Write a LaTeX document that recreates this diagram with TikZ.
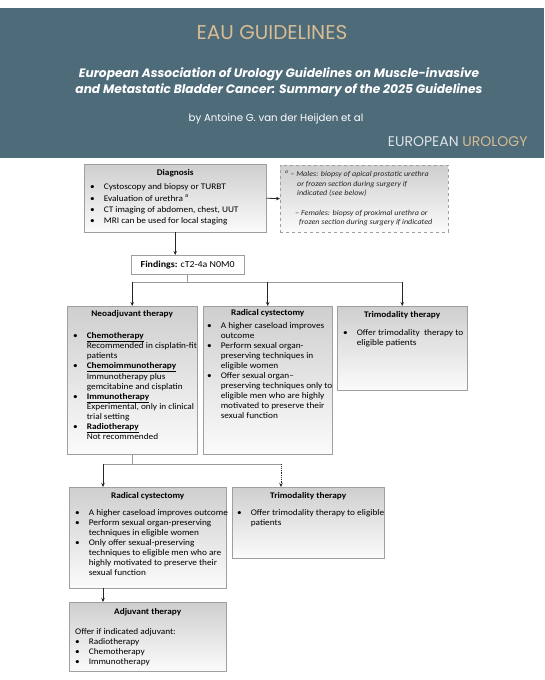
\documentclass[tikz,border=0pt]{standalone}
\usepackage{fontspec}
\setmainfont{Carlito}[FakeStretch=1.08]
\newfontfamily\headfont{Poppins}
\usetikzlibrary{positioning}
\usetikzlibrary{arrows.meta}

\definecolor{headbg}{HTML}{4E6B7A}
\definecolor{headtan}{HTML}{D8BC94}
\definecolor{headgray}{HTML}{DCE3E6}

\newenvironment{blist}{\begin{tabular}{@{}l@{\hspace{9pt}}l@{}}}{\end{tabular}}
\newcommand{\bi}{\textbullet &}
\newcommand{\hd}[1]{\underline{\textbf{#1}}}

\tikzset{
  panel/.style={draw=gray!75, top color=gray!38, bottom color=gray!3, anchor=north west, inner sep=0pt},
  boxhead/.style={inner sep=0pt, font=\bfseries\fontsize{8.6}{10}\selectfont},
  boxbody/.style={anchor=north west, inner sep=0pt, font=\fontsize{8.6}{10}\selectfont},
  arr/.style={draw=black!85, line width=0.8pt, -{Stealth[length=4pt,width=3.5pt]}},
  bus/.style={draw=gray!80, line width=0.8pt},
}

\begin{document}
\begin{tikzpicture}[x=1pt, y=-1pt]
  \useasboundingbox (0,0) rectangle (544,680);
  \fill[white] (0,0) rectangle (544,680);

  % header band
  \fill[headbg] (0,8) rectangle (544,158);
  \node[font=\headfont\fontsize{20}{24}\selectfont, text=headtan] (eau) at (272,33) {EAU GUIDELINES};
  \node[font=\headfont\bfseries\itshape\fontsize{12.2}{15.5}\selectfont, text=white, align=center] (ttl) at (279,82)
    {European Association of Urology Guidelines on Muscle-invasive\\and Metastatic Bladder Cancer: Summary of the 2025 Guidelines};
  \node[font=\headfont\fontsize{10.2}{12}\selectfont, text=white] (by) at (276,119) {by Antoine G. van der Heijden et al};
  \node[anchor=east, font=\headfont\fontsize{14}{16}\selectfont] (eu) at (531,142)
    {\textcolor{headgray}{EUROPEAN} \textcolor{headtan}{UROLOGY}};

  % diagnosis
  \node[panel, minimum width=182pt, minimum height=68pt] (diag) at (84,164) {};
  \node[boxhead] (diaghd) at ([yshift=-9pt]diag.north) {Diagnosis};
  \node[boxbody, font=\fontsize{8.6}{11.4}\selectfont] (diagtxt) at ([xshift=6pt, yshift=-17.5pt]diag.north west) {\begin{blist}
    \bi Cystoscopy and biopsy or TURBT\\
    \bi Evaluation of urethra \textsuperscript{a}\\
    \bi CT imaging of abdomen, chest, UUT\\
    \bi MRI can be used for local staging
  \end{blist}};

  \node[panel, dashed, minimum width=168pt, minimum height=67pt] (notes) at (280,165) {};
  \node[anchor=north west, align=left, inner sep=0pt, text=black!85, font=\itshape\fontsize{7.5}{9.6}\selectfont] (notestxt)
    at ([xshift=5pt, yshift=-6pt]notes.north west)
    {\textsuperscript{a} -- Males: biopsy of apical prostatic urethra\\
     \hspace*{12pt}or frozen section during surgery if\\
     \hspace*{12pt}indicated (see below)\\[9.6pt]
     \hspace*{10pt}-- Females: biopsy of proximal urethra or\\
     \hspace*{14pt}frozen section during surgery if indicated};

  \node[draw=gray!75, fill=white, anchor=north west, minimum width=113pt, minimum height=19pt, inner sep=0pt,
    font=\fontsize{9.2}{11}\selectfont] (find) at (131,255) {\textbf{Findings:} cT2-4a N0M0};

  % first row
  \node[panel, minimum width=130pt, minimum height=148pt] (neo) at (67,306) {};
  \node[boxhead] (neohd) at ([yshift=-8pt]neo.north) {Neoadjuvant therapy};
  \node[boxbody] (neotxt) at ([xshift=6pt, yshift=-25.2pt]neo.north west) {\begin{blist}
    \bi \hd{Chemotherapy}\\ & Recommended in cisplatin-fit\\ & patients\\
    \bi \hd{Chemoimmunotherapy}\\ & Immunotherapy plus\\ & gemcitabine and cisplatin\\
    \bi \hd{Immunotherapy}\\ & Experimental, only in clinical\\ & trial setting\\
    \bi \hd{Radiotherapy}\\ & Not recommended
  \end{blist}};

  \node[panel, minimum width=129pt, minimum height=148pt] (rc) at (203,306) {};
  \node[boxhead] (rchd) at ([yshift=-7.5pt]rc.north) {Radical cystectomy};
  \node[boxbody] (rctxt) at ([xshift=4pt, yshift=-15.5pt]rc.north west) {\begin{blist}
    \bi A higher caseload improves\\ & outcome\\
    \bi Perform sexual organ-\\ & preserving techniques in\\ & eligible women\\
    \bi Offer sexual organ--\\ & preserving techniques only to\\ & eligible men who are highly\\
      & motivated to preserve their\\ & sexual function
  \end{blist}};

  \node[panel, minimum width=130pt, minimum height=84pt] (tmt) at (337,306) {};
  \node[boxhead] (tmthd) at ([yshift=-9pt]tmt.north) {Trimodality therapy};
  \node[boxbody] (tmttxt) at ([xshift=6pt, yshift=-22.2pt]tmt.north west) {\begin{blist}
    \bi Offer trimodality\ \ therapy to\\ & eligible patients
  \end{blist}};

  % second row
  \node[panel, minimum width=157pt, minimum height=101pt] (rc2) at (69,487) {};
  \node[boxhead] (rc2hd) at ([yshift=-9pt]rc2.north) {Radical cystectomy};
  \node[boxbody] (rc2txt) at ([xshift=6pt, yshift=-21.2pt]rc2.north west) {\begin{blist}
    \bi A higher caseload improves outcome\\
    \bi Perform sexual organ-preserving\\ & techniques in eligible women\\
    \bi Only offer sexual-preserving\\ & techniques to eligible men who are\\
      & highly motivated to preserve their\\ & sexual function
  \end{blist}};

  \node[panel, minimum width=152pt, minimum height=71pt] (tmt2) at (232,487) {};
  \node[boxhead] (tmt2hd) at ([yshift=-9pt]tmt2.north) {Trimodality therapy};
  \node[boxbody] (tmt2txt) at ([xshift=5pt, yshift=-21.2pt]tmt2.north west) {\begin{blist}
    \bi Offer trimodality therapy to eligible\\ & patients
  \end{blist}};

  \node[panel, minimum width=157pt, minimum height=69pt] (adj) at (69,602) {};
  \node[boxhead] (adjhd) at ([yshift=-10pt]adj.north) {Adjuvant therapy};
  \node[boxbody] (adjtxt) at ([xshift=6pt, yshift=-25.2pt]adj.north west) {\begin{blist}
    \multicolumn{2}{@{}l@{}}{Offer if indicated adjuvant:}\\
    \bi Radiotherapy\\
    \bi Chemotherapy\\
    \bi Immunotherapy
  \end{blist}};

  % connectors
  \draw[arr] (diag.south) -- (diag.south |- find.north);
  \draw[arr] (diag.east) -- (notes.west);

  \draw[bus] (find.south) -- ++(0,8) coordinate (fork1);
  \draw[bus] (neo.north |- fork1) -- (tmt.north |- fork1);
  \foreach \b in {neo,rc,tmt}
    \draw[arr] (\b.north |- fork1) -- (\b.north);

  \draw[bus] (neo.south) -- ++(0,10) coordinate (fork2);
  \coordinate (rc2in) at ([xshift=34pt]rc2.north west);
  \coordinate (tmt2in) at ([xshift=49pt]tmt2.north west);
  \draw[bus] (rc2in |- fork2) -- (tmt2in |- fork2);
  \draw[arr] (rc2in |- fork2) -- (rc2in);
  \draw[arr, densely dotted] (tmt2in |- fork2) -- (tmt2in);
  \draw[arr] (rc2in |- rc2.south) -- (rc2in |- adj.north);

\end{tikzpicture}
\end{document}
